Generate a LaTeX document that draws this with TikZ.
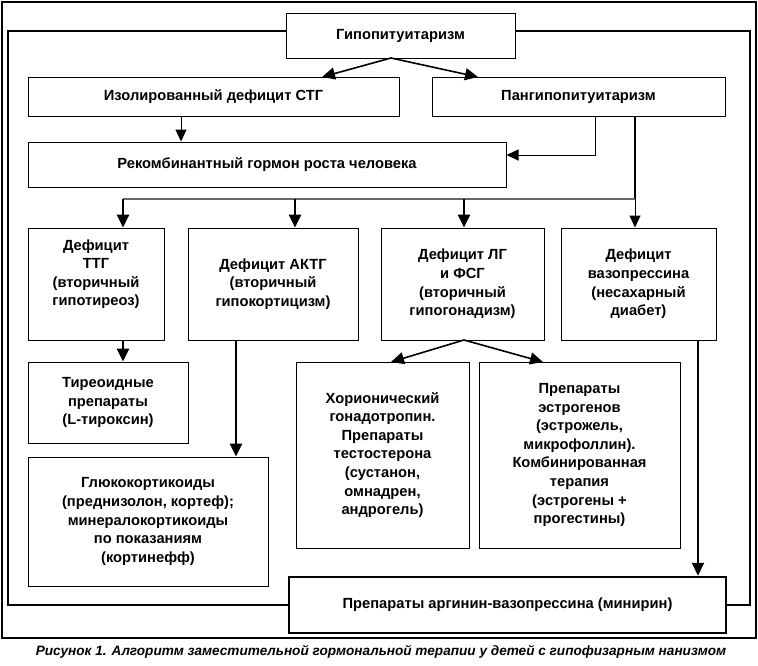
\documentclass[tikz,border=0pt]{standalone}
\usepackage{fontspec}
\setmainfont{Liberation Sans}
\usetikzlibrary{arrows.meta,calc}
\begin{document}
\begin{tikzpicture}[x=1pt,y=-1pt,
  box/.style={draw,line width=1pt,align=center,inner sep=0pt,
    font=\bfseries\fontsize{14.7}{18.6}\selectfont},
  thinarr/.style={line width=1pt,-{Triangle[length=12pt,width=11pt]}},
  medarr/.style={line width=1.6pt,-{Triangle[length=13pt,width=12pt]}},
  thickarr/.style={line width=2.6pt,-{Triangle[length=13pt,width=12pt]}},
  frame/.style={line width=1.2pt}]
\useasboundingbox (0,0) rectangle (758,665);
\draw[line width=1.4pt] (2,2) rectangle (756,638);
\node[box,minimum width=229pt,minimum height=45pt] (hypo) at (400.5,35.5) {Гипопитуитаризм};
\node[box,minimum width=371pt,minimum height=39pt] (iso) at (213.5,96.5) {Изолированный дефицит СТГ};
\node[box,minimum width=293pt,minimum height=39pt] (pan) at (578.5,96.5) {Пангипопитуитаризм};
\node[box,minimum width=478pt,minimum height=45pt] (rec) at (267,164.5) {Рекомбинантный гормон роста человека};
\node[box,minimum width=136pt,minimum height=112pt] (ttg) at (96,284) {Дефицит\\ТТГ\\(вторичный\\гипотиреоз)\\[4pt]};
\node[box,minimum width=170pt,minimum height=112pt] (actg) at (273,284) {Дефицит АКТГ\\(вторичный\\гипокортицизм)};
\node[box,minimum width=163pt,minimum height=112pt] (lh) at (462.5,284) {Дефицит ЛГ\\и ФСГ\\(вторичный\\гипогонадизм)};
\node[box,minimum width=155pt,minimum height=112pt] (vaso) at (638.5,284) {Дефицит\\вазопрессина\\(несахарный\\диабет)};
\node[box,minimum width=160pt,minimum height=81pt] (thyr) at (108,402.5) {Тиреоидные\\препараты\\(L-тироксин)};
\node[box,minimum width=240pt,minimum height=129pt] (gluc) at (148,521.5) {Глюкокортикоиды\\(преднизолон, кортеф);\\минералокортикоиды\\по показаниям\\(кортинефф)};
\node[box,minimum width=173pt,minimum height=186pt] (chor) at (382.5,455) {Хорионический\\гонадотропин.\\Препараты\\тестостерона\\(сустанон,\\омнадрен,\\андрогель)};
\node[box,minimum width=201pt,minimum height=186pt] (estr) at (579.5,455) {Препараты\\эстрогенов\\(эстрожель,\\микрофоллин).\\Комбинированная\\терапия\\(эстрогены +\\прогестины)};
\node[box,line width=2.4pt,minimum width=437pt,minimum height=56pt] (argv) at (507.5,605) {Препараты аргинин-вазопрессина (минирин)};
\node[font=\bfseries\itshape\fontsize{13.6}{15}\selectfont,inner sep=0pt] (cap) at (381,652) {Рисунок 1. Алгоритм заместительной гормональной терапии у детей с гипофизарным нанизмом};
% inner frame
\coordinate (fl) at (hypo.west |- 0,31);
\coordinate (fr) at (hypo.east |- 0,31);
\draw[frame] (fl) -- (8,31) -- (8,605) -- (argv.west);
\draw[frame] (fr) -- (750,31) -- (750,605) -- (argv.east);
% top arrows
\coordinate (hs) at (391,58);
\draw[medarr] (hs) -- (322,77);
\draw[medarr] (hs) -- (478,77);
\draw[thinarr] (iso.south -| 181,0) -- (rec.north -| 181,0);
\coordinate (p1) at (595,116);
\coordinate (re) at ($(rec.east)+(0,-9.5)$);
\draw[thinarr] (p1) |- (re);
\coordinate (p2) at (635,116);
\coordinate (bus) at (635,199);
\draw[line width=1.1pt] (p2) -- (bus);
\draw[line width=1.8pt,gray!80!black] (123,199) -- (bus);
\coordinate (b1) at (123,199);
\coordinate (b2) at (295,199);
\coordinate (b3) at (464,199);
\draw[thickarr] (b1) -- (b1 |- ttg.north);
\draw[thickarr] (b2) -- (b2 |- actg.north);
\draw[thickarr] (b3) -- (b3 |- lh.north);
\draw[thinarr] (bus) -- (bus |- vaso.north);
% lower arrows
\coordinate (t1) at (123,340);
\draw[thickarr] (t1) -- (t1 |- thyr.north);
\coordinate (a1) at (236,340);
\draw[thickarr] (a1) -- (a1 |- gluc.north);
\coordinate (l1) at (464,340);
\draw[medarr] (l1) -- (391,362);
\draw[medarr] (l1) -- (543,362);
\coordinate (v1) at (698,340);
\draw[medarr] (v1) -- (v1 |- argv.north);
\end{tikzpicture}
\end{document}
